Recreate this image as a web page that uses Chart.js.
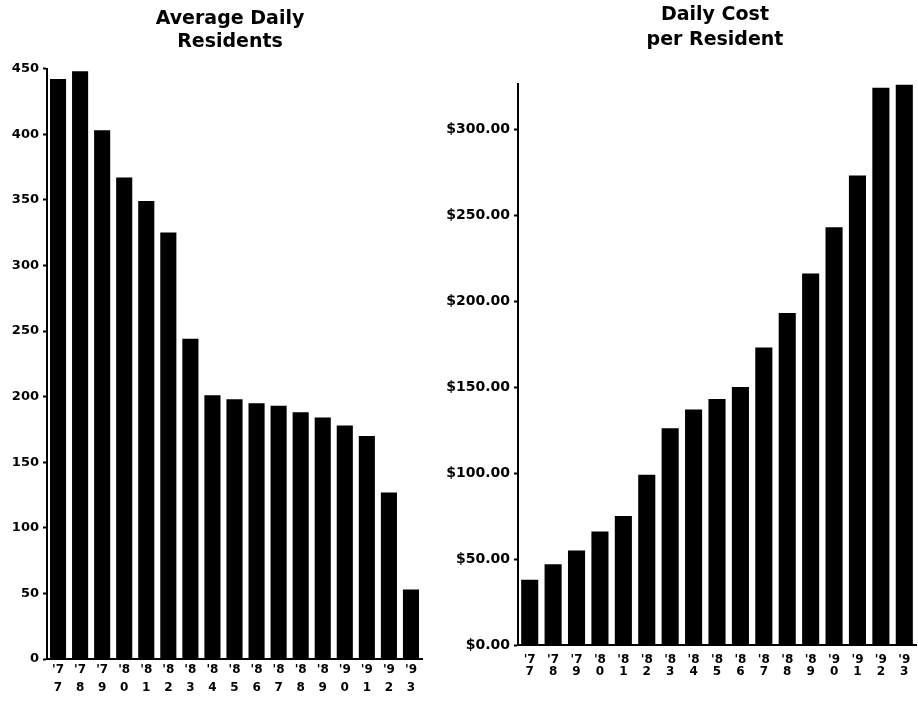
<!DOCTYPE html>
<html>
<head>
<meta charset="utf-8">
<script src="https://cdn.jsdelivr.net/npm/chart.js@4.4.0/dist/chart.umd.min.js"></script>
<style>
  body { margin: 0; background: #fff; overflow: hidden; }
  #wrap { position: relative; width: 918px; height: 702px; overflow: hidden; }
  .box { position: absolute; top: 0; height: 702px; }
</style>
</head>
<body>
<div id="wrap">
  <div class="box" style="left:0;width:460px"><canvas id="residentsChart"></canvas></div>
  <!-- wider than the page on purpose so the title centres over the plot -->
  <div class="box" style="left:440px;width:550px"><canvas id="costChart"></canvas></div>
</div>
<script>
const years = ["'77", "'78", "'79", "'80", "'81", "'82", "'83", "'84", "'85",
               "'86", "'87", "'88", "'89", "'90", "'91", "'92", "'93"];
const residents = [442, 448, 403, 367, 349, 325, 244, 201, 198, 195, 193, 188, 184, 178, 170, 127, 53];
const costPerResident = [38, 47, 55, 66, 75, 99, 126, 137, 143, 150, 173, 193, 216, 243, 273, 324, 326];

// year labels are printed stacked: "'7" over "7"
const stackedLabels = years.map(y => [y.slice(0, 2), y.slice(2)]);

const FONT = "'DejaVu Sans', sans-serif";
Chart.defaults.font.family = FONT;
Chart.defaults.color = '#000';

function barChart(id, values, opts) {
  return new Chart(document.getElementById(id), {
    type: 'bar',
    data: {
      labels: stackedLabels,
      datasets: [{
        data: values,
        backgroundColor: '#000',
        barPercentage: 0.73,
        categoryPercentage: 1
      }]
    },
    options: {
      responsive: true,
      maintainAspectRatio: false,
      animation: false,
      layout: { padding: 0 },
      plugins: {
        legend: { display: false },
        tooltip: { enabled: false },
        title: {
          display: true,
          text: opts.title,
          color: '#000',
          font: { family: FONT, size: 19, weight: 'bold', lineHeight: opts.titleLineHeight },
          padding: opts.titlePadding
        }
      },
      scales: {
        x: {
          grid: { display: false, drawTicks: false },
          border: { color: '#000', width: 2 },
          ticks: {
            maxRotation: 0,
            autoSkip: false,
            padding: opts.xPad,
            font: { size: 12, weight: 'bold', lineHeight: opts.xLineHeight }
          },
          afterFit: s => { s.height = opts.xHeight; }
        },
        y: {
          min: 0,
          max: opts.max,
          grid: { drawOnChartArea: false, color: '#000', tickLength: 4, tickWidth: 2 },
          border: { color: '#000', width: 2 },
          ticks: {
            stepSize: 50,
            padding: 4,
            font: { size: opts.yFont, weight: 'bold' },
            callback: opts.format
          },
          afterBuildTicks: s => { s.ticks = s.ticks.filter(t => t.value % 50 === 0); },
          afterFit: s => { s.width = opts.yWidth; }
        },
        // empty spacer on the right, keeps the title centred on the whole panel
        spacer: {
          type: 'linear',
          position: 'right',
          grid: { display: false },
          border: { display: false },
          ticks: { display: false },
          afterFit: s => { s.width = opts.rightGap; }
        }
      }
    }
  });
}

barChart('residentsChart', residents, {
  title: ['Average Daily', 'Residents'],
  titleLineHeight: 1.2,
  titlePadding: { top: 8, bottom: 15 },
  max: 450,
  yWidth: 47,
  rightGap: 38,
  yFont: 13,
  xHeight: 43,
  xPad: 2,
  xLineHeight: 1.5,
  format: v => v
});

barChart('costChart', costPerResident, {
  title: ['Daily Cost', 'per Resident'],
  titleLineHeight: 1.3,
  titlePadding: { top: 3, bottom: 32 },
  max: 326,
  yWidth: 78,
  rightGap: 74,
  yFont: 14,
  xHeight: 57,
  xPad: 9,
  xLineHeight: 1.0,
  format: v => '$' + v.toFixed(2)
});
</script>
</body>
</html>
